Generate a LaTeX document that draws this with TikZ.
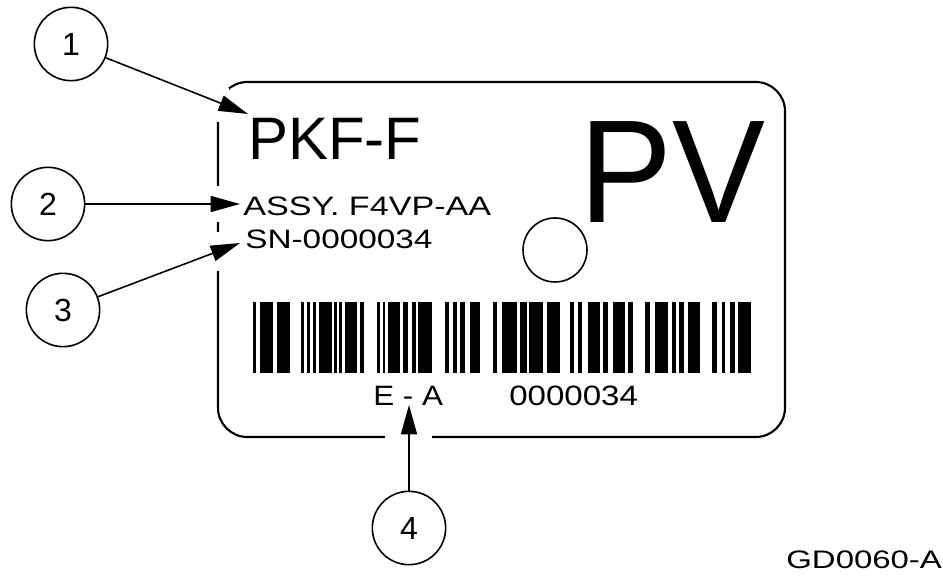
\documentclass[tikz,border=0pt]{standalone}
\usepackage{fontspec}
\setmainfont{Liberation Sans}
\usetikzlibrary{arrows.meta}

\begin{document}
\begin{tikzpicture}[x=0.75pt, y=-0.75pt, >={Triangle[length=22pt, width=12pt]},
    callout/.style={circle, draw, line width=1.2pt, minimum size=55pt, inner sep=0pt,
      font=\fontsize{24}{28}\selectfont},
    tag/.style={anchor=base west, inner sep=0pt},
    lead/.style={->, line width=1.2pt}]
  \useasboundingbox (0,0) rectangle (943,580);
  % the plate
  \draw[line width=1.6pt, rounded corners=22pt] (218,82) rectangle (785,437);
  % gaps in the edge where the leaders come in
  \fill[white] (208,88) rectangle (229,122);
  \fill[white] (208,186) rectangle (228,222);
  \fill[white] (208,232) rectangle (228,271);
  \fill[white] (385,428) rectangle (432,446);
  % texts on the plate
  \node[tag, font=\fontsize{45}{50}\selectfont] (pkf) at (248,160) {PKF-F};
  \node[tag, font=\fontsize{20}{24}\selectfont, xscale=1.28] (assy) at (243,216) {ASSY. F4VP-AA};
  \node[tag, font=\fontsize{20}{24}\selectfont, xscale=1.25] (sn) at (245,249) {SN-0000034};
  \node[tag, font=\fontsize{110}{120}\selectfont, xscale=0.95] (pv) at (579,223) {PV};
  \draw[line width=1.2pt] (555,250) circle (24pt);
  % barcode
  \foreach \a/\b in {253/256, 260/273, 277/290, 301/304, 307/310, 313/316, 319/332,
      334/337, 339/342, 345/357, 360/364, 377/380, 383/385, 388/400, 403/408,
      412/416, 418/432, 445/449, 453/457, 460/465, 470/480, 493/497, 502/517,
      520/527, 529/543, 547/560, 570/574, 578/582, 588/600, 603/608, 613/625,
      628/633, 645/650, 655/668, 672/676, 679/684, 688/700, 712/717, 722/725,
      730/735, 738/751}
    \fill (\a,302) rectangle (\b,373);
  \node[tag, font=\fontsize{21}{24}\selectfont, xscale=1.12] (ea) at (373,406) {E - A};
  \node[tag, font=\fontsize{21}{24}\selectfont, xscale=1.18] (num) at (509,406) {0000034};
  % callouts
  \node[callout] (c1) at (71,44) {1};
  \node[callout] (c2) at (48,204) {2};
  \node[callout] (c3) at (63,310) {3};
  \node[callout] (c4) at (409,528) {4};
  \coordinate (t1) at (248,114);
  \coordinate (t2) at (240,204);
  \coordinate (t3) at (240,243);
  \coordinate (t4) at (409,405);
  \draw[lead] (c1) -- (t1);
  \draw[lead] (c2) -- (t2);
  \draw[lead] (c3) -- (t3);
  \draw[lead] (c4) -- (t4);
  \node[tag, font=\fontsize{19}{22}\selectfont, xscale=1.3] (ref) at (786,569) {GD0060-A};
\end{tikzpicture}
\end{document}
